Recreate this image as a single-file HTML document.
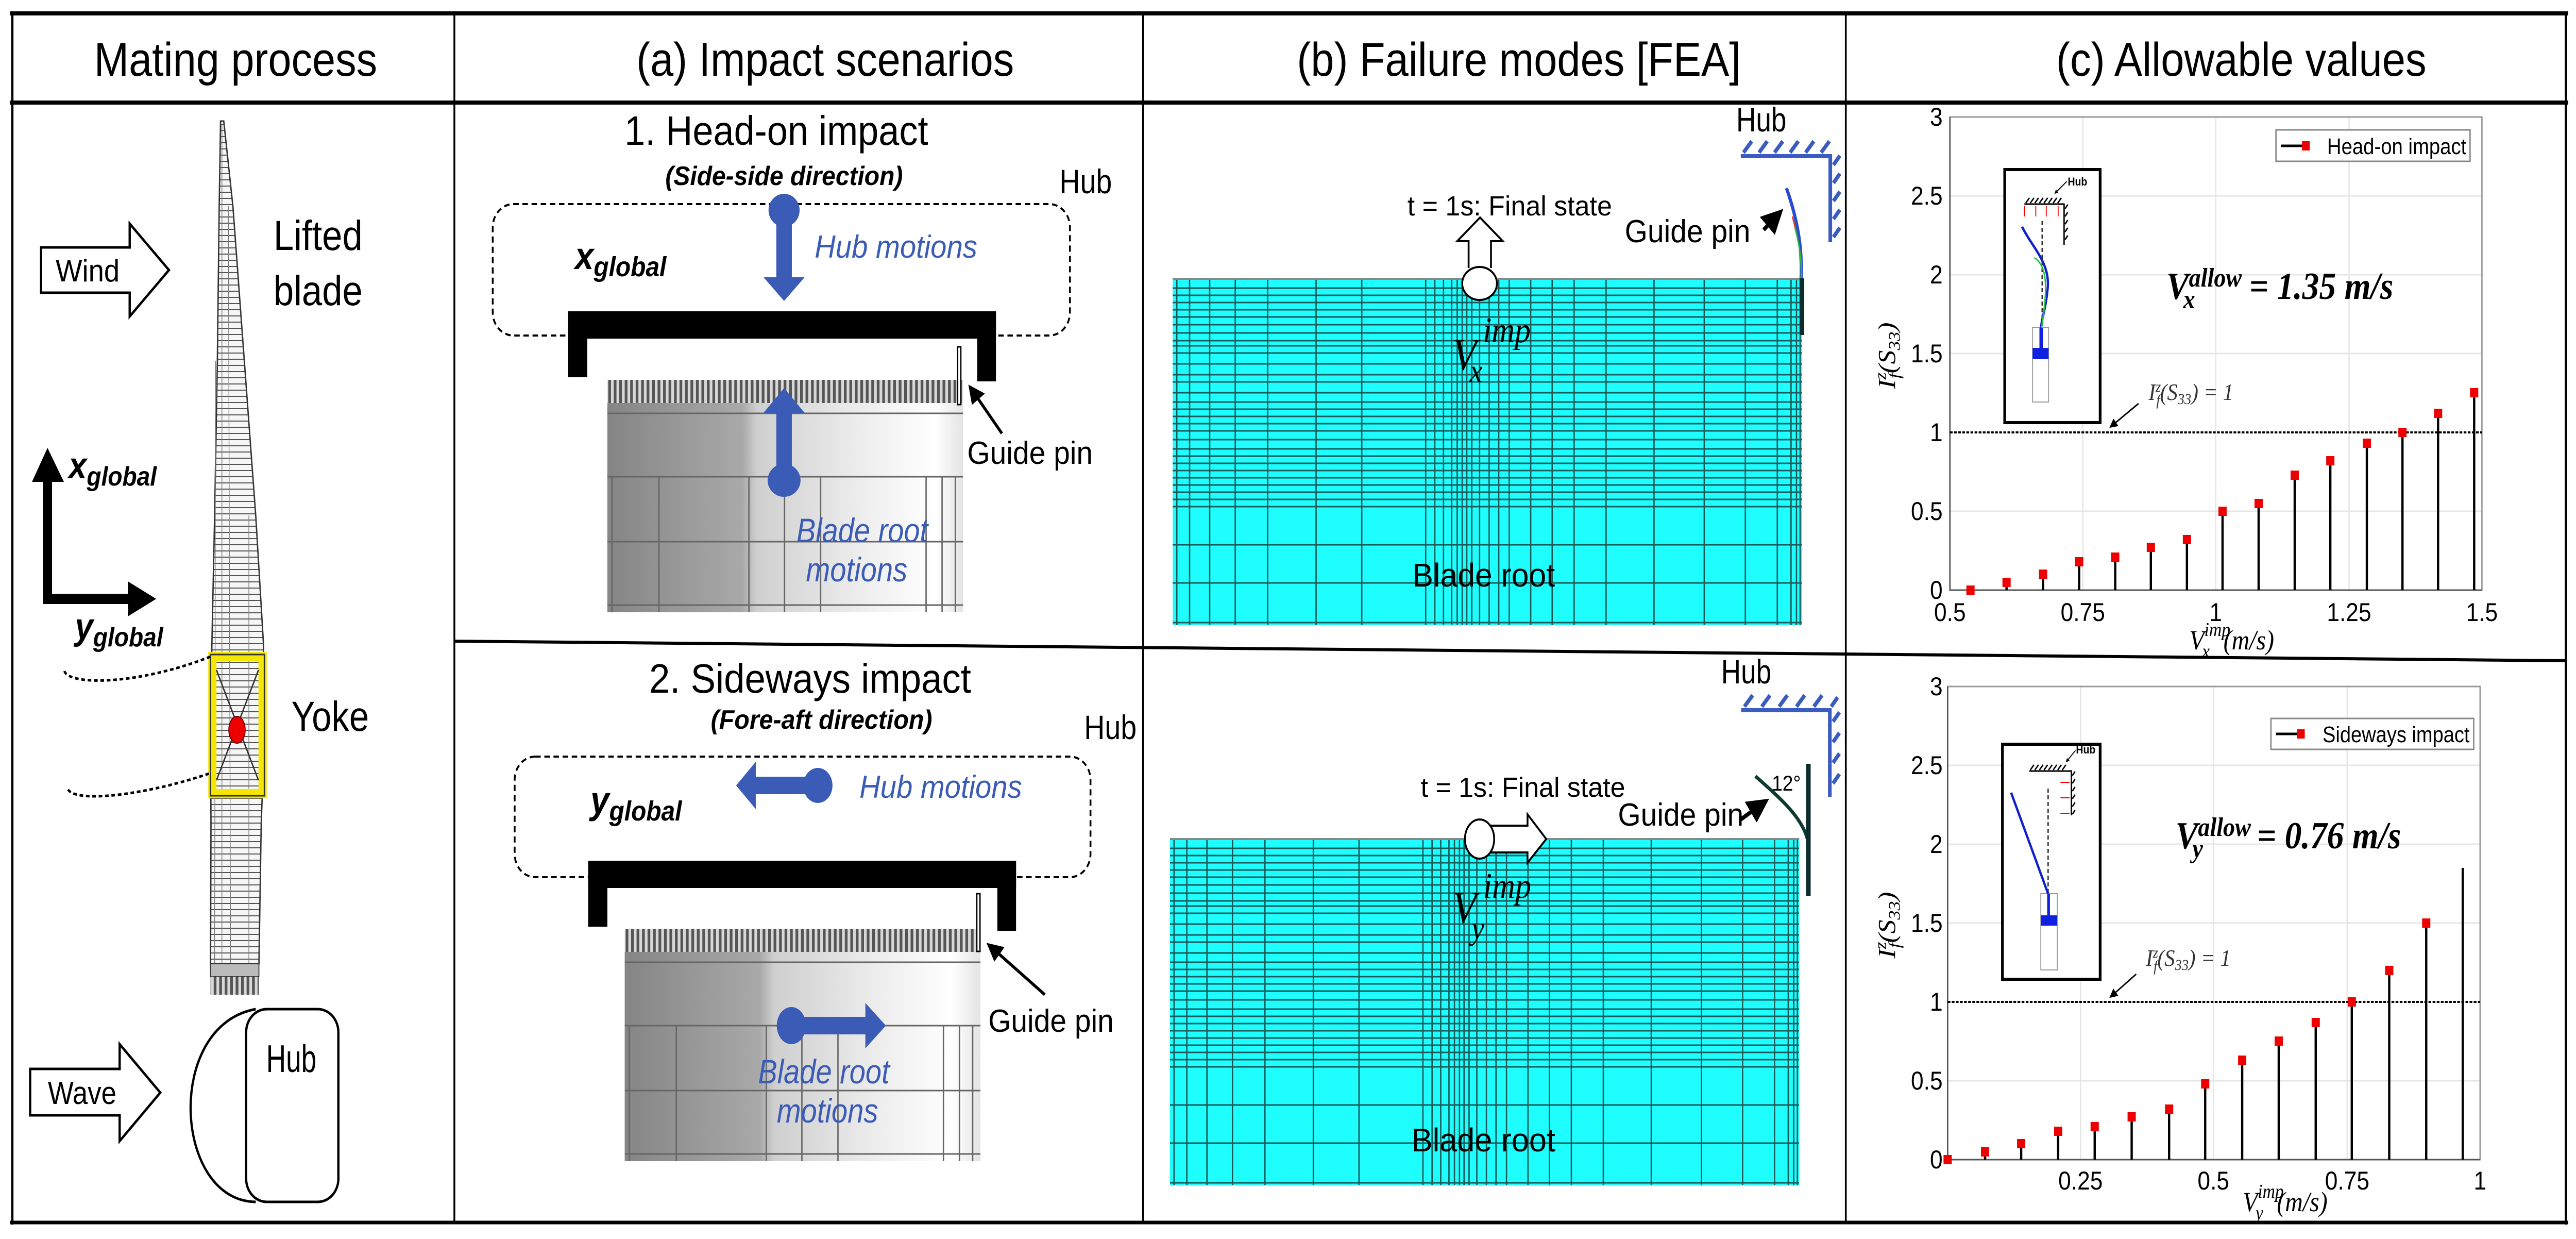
<!DOCTYPE html>
<html><head><meta charset="utf-8"><style>
html,body{margin:0;padding:0;background:#fff;width:100%;height:100%;overflow:hidden;}
svg{display:block;width:100vw;height:100vh;}
text{font-family:"Liberation Sans",Arial,sans-serif;}
.m{font-family:"Liberation Serif",serif;font-style:italic;}
.bl{fill:#3a5bb6;font-style:italic;}
</style></head><body>
<svg viewBox="0 0 5641 2404" preserveAspectRatio="none" xmlns="http://www.w3.org/2000/svg">
<defs>
<linearGradient id="cg" x1="0" x2="1" y1="0" y2="0">
<stop offset="0" stop-color="#858585"/><stop offset="0.38" stop-color="#a9a9a9"/><stop offset="0.42" stop-color="#cfcfcf"/><stop offset="0.7" stop-color="#ececec"/><stop offset="0.92" stop-color="#ffffff"/><stop offset="1" stop-color="#e4e4e4"/>
</linearGradient>
<pattern id="comb" width="12" height="50" patternUnits="userSpaceOnUse"><rect width="12" height="50" fill="#d8d8d8"/><rect width="6" height="50" fill="#555"/></pattern>
<pattern id="bh" width="40" height="12" patternUnits="userSpaceOnUse"><rect width="40" height="12" fill="#f6f6f6"/><rect y="0" width="40" height="2" fill="#555"/></pattern>
<marker id="ah" viewBox="0 0 10 10" refX="8" refY="5" markerWidth="4" markerHeight="4" orient="auto"><path d="M0,0 L10,5 L0,10 z" fill="#000"/></marker>
<marker id="ahs" viewBox="0 0 10 10" refX="8" refY="5" markerWidth="6" markerHeight="6" orient="auto"><path d="M0,0 L10,5 L0,10 z" fill="#000"/></marker>

<g id="mesh">
<rect x="2568" y="541" width="1378" height="672" fill="#1ffeff"/>
<g stroke="#1a5a5a" stroke-width="3" fill="none">
<path d="M2568,559H3946M2568,573H3946M2568,587H3946M2568,601H3946M2568,615H3946M2568,630H3946M2568,646H3946M2568,661H3946M2568,671H3946M2568,685H3946M2568,706H3946M2568,727H3946M2568,741H3946M2568,762H3946M2568,780H3946M2568,794H3946M2568,808H3946M2568,822H3946M2568,836H3946M2568,853H3946M2568,871H3946M2568,885H3946M2568,899H3946M2568,913H3946M2568,927H3946M2568,941H3946M2568,955H3946M2568,969H3946M2568,983H3946M2568,1057H3946M2568,1131H3946M2568,1208H3946"/>
<path d="M2577,541V1213M2605,541V1213M2649,541V1213M2705,541V1213M2776,541V1213M2882,541V1213M2982,541V1213M3122,541V1213M3142,541V1213M3161,541V1213M3179,541V1213M3191,541V1213M3202,541V1213M3212,541V1213M3223,541V1213M3240,541V1213M3261,541V1213M3282,541V1213M3305,541V1213M3352,541V1213M3399,541V1213M3447,541V1213M3517,541V1213M3622,541V1213M3732,541V1213M3822,541V1213M3892,541V1213M3922,541V1213M3934,541V1213M3942,541V1213"/>
</g>
<line x1="2568" y1="541" x2="3946" y2="541" stroke="#888" stroke-width="4"/>
</g>

<g id="cyl">
<rect x="1330" y="782" width="779" height="406" fill="url(#cg)"/>
<rect x="1330" y="737" width="779" height="45" fill="url(#comb)"/>
<g stroke="#666" stroke-width="3">
<path d="M1330,802H2109M1330,925H2109M1330,1051H2109M1330,1174H2109"/>
<path d="M1340,925V1188M1443,925V1188M1640,925V1188M1718,925V1188M1797,925V1188M2028,925V1188M2063,925V1188M2092,925V1188"/>
</g>
</g>

<g id="brk" fill="#000">
<rect x="1244" y="604" width="937" height="53"/>
<rect x="1244" y="604" width="42" height="128"/>
<rect x="2140" y="604" width="41" height="136"/>
</g>
</defs>

<!-- table lines -->
<g stroke="#000" fill="none">
<line x1="22" y1="26" x2="5624" y2="26" stroke-width="8"/>
<line x1="22" y1="199" x2="5624" y2="199" stroke-width="8"/>
<line x1="27" y1="22" x2="27" y2="2376" stroke-width="5"/>
<line x1="5619" y1="22" x2="5619" y2="2376" stroke-width="5"/>
<line x1="22" y1="2372" x2="5624" y2="2372" stroke-width="7"/>
<line x1="995" y1="26" x2="995" y2="2372" stroke-width="4"/>
<line x1="2503" y1="26" x2="2503" y2="2372" stroke-width="4"/>
<line x1="4042" y1="26" x2="4042" y2="2372" stroke-width="4"/>
<line x1="995" y1="1244" x2="5619" y2="1282" stroke-width="6"/>
</g>

<!-- headers -->
<g font-size="92" fill="#000">
<text x="516" y="147" text-anchor="middle" textLength="620" lengthAdjust="spacingAndGlyphs">Mating process</text>
<text x="1807" y="147" text-anchor="middle" textLength="827" lengthAdjust="spacingAndGlyphs">(a) Impact scenarios</text>
<text x="3326" y="147" text-anchor="middle" textLength="972" lengthAdjust="spacingAndGlyphs">(b) Failure modes [FEA]</text>
<text x="4908" y="147" text-anchor="middle" textLength="811" lengthAdjust="spacingAndGlyphs">(c) Allowable values</text>
</g>

<!-- ========== Mating process column ========== -->
<path d="M483,235 L490,235 L510,400 L535,700 L560,1000 L577,1250 L580,1400 L572,1600 L567,1870 L461,1870 L462,1600 L461,1400 L464,1250 L470,1000 L476,700 L480,400 Z" fill="url(#bh)" stroke="#333" stroke-width="3"/>
<path d="M486,240 L486,1870 M500,400 L505,1870 M472,700 L470,1870 M545,1000 L545,1870" stroke="#777" stroke-width="1.5" fill="none"/>
<rect x="461" y="1870" width="106" height="25" fill="#bbb" stroke="#333" stroke-width="2"/>
<rect x="461" y="1895" width="106" height="35" fill="url(#comb)"/>
<!-- yoke -->
<rect x="465" y="1274" width="110" height="266" fill="none" stroke="#f4e600" stroke-width="18"/>
<rect x="461" y="1270" width="118" height="274" fill="none" stroke="#333" stroke-width="3"/>
<path d="M474,1300 L566,1514 M566,1300 L474,1514" stroke="#333" stroke-width="3"/>
<ellipse cx="519" cy="1416" rx="18" ry="26" fill="#ee0000" stroke="#600" stroke-width="2"/>
<path d="M141,1302 C150,1330 300,1330 461,1274" fill="none" stroke="#000" stroke-width="5" stroke-dasharray="8,6"/>
<path d="M149,1532 C170,1560 330,1540 461,1500" fill="none" stroke="#000" stroke-width="5" stroke-dasharray="8,6"/>
<text x="638" y="1418" font-size="82" textLength="170" lengthAdjust="spacingAndGlyphs">Yoke</text>
<text x="599" y="485" font-size="82" textLength="195" lengthAdjust="spacingAndGlyphs">Lifted</text>
<text x="599" y="592" font-size="82" textLength="195" lengthAdjust="spacingAndGlyphs">blade</text>
<!-- wind arrow -->
<path d="M90,480 H284 V434 L370,524 L284,614 V568 H90 Z" fill="#fff" stroke="#000" stroke-width="5"/>
<text x="192" y="546" font-size="60" text-anchor="middle" textLength="140" lengthAdjust="spacingAndGlyphs">Wind</text>
<!-- axes -->
<path d="M104,1162 V920" stroke="#000" stroke-width="20"/>
<path d="M70,935 L104,869 L140,935 Z" fill="#000"/>
<path d="M94,1162 H290" stroke="#000" stroke-width="20"/>
<path d="M280,1128 L342,1162 L280,1196 Z" fill="#000"/>
<text x="150" y="928" font-size="72" font-weight="bold" font-style="italic">x<tspan font-size="52" dy="14">global</tspan></text>
<text x="164" y="1240" font-size="72" font-weight="bold" font-style="italic">y<tspan font-size="52" dy="14">global</tspan></text>
<!-- wave arrow -->
<path d="M66,2074 H262 V2026 L351,2120 L262,2214 V2164 H66 Z" fill="#fff" stroke="#000" stroke-width="5"/>
<text x="180" y="2142" font-size="62" text-anchor="middle" textLength="150" lengthAdjust="spacingAndGlyphs">Wave</text>
<!-- hub D -->
<path d="M560,1958 C360,1990 380,2330 560,2332" fill="#fff" stroke="#000" stroke-width="5"/>
<rect x="539" y="1958" width="202" height="374" rx="45" fill="#fff" stroke="#000" stroke-width="5"/>
<text x="638" y="2080" font-size="75" text-anchor="middle" textLength="110" lengthAdjust="spacingAndGlyphs">Hub</text>

<!-- ========== (a) top ========== -->
<text x="1700" y="281" font-size="80" text-anchor="middle" textLength="665" lengthAdjust="spacingAndGlyphs">1. Head-on impact</text>
<text x="1717" y="359" font-size="52" font-weight="bold" font-style="italic" text-anchor="middle" textLength="520" lengthAdjust="spacingAndGlyphs">(Side-side direction)</text>
<text x="2320" y="375" font-size="66" textLength="115" lengthAdjust="spacingAndGlyphs">Hub</text>
<rect x="1079" y="396" width="1264" height="255" rx="45" fill="none" stroke="#000" stroke-width="4" stroke-dasharray="12,8"/>
<text x="1259" y="522" font-size="74" font-weight="bold" font-style="italic">x<tspan font-size="54" dy="14">global</tspan></text>
<use href="#cyl"/>
<use href="#brk"/>
<rect x="2097" y="673" width="7" height="112" fill="#fff" stroke="#000" stroke-width="3"/>
<line x1="1717" y1="406" x2="1717" y2="545" stroke="#3a5bb6" stroke-width="34"/>
<ellipse cx="1717" cy="408" rx="34" ry="32" fill="#3a5bb6"/>
<path d="M1672,538 L1762,538 L1717,584 Z" fill="#3a5bb6"/>
<text x="1784" y="500" font-size="62" class="bl" textLength="356" lengthAdjust="spacingAndGlyphs">Hub motions</text>
<line x1="1717" y1="795" x2="1717" y2="932" stroke="#3a5bb6" stroke-width="34"/>
<ellipse cx="1717" cy="932" rx="36" ry="32" fill="#3a5bb6"/>
<path d="M1672,801 L1762,801 L1717,753 Z" fill="#3a5bb6"/>
<text x="1888" y="1052" font-size="66" class="bl" text-anchor="middle" textLength="288" lengthAdjust="spacingAndGlyphs">Blade root</text>
<text x="1876" y="1128" font-size="66" class="bl" text-anchor="middle" textLength="222" lengthAdjust="spacingAndGlyphs">motions</text>
<line x1="2194" y1="841" x2="2125" y2="752" stroke="#000" stroke-width="6" marker-end="url(#ahs)"/>
<text x="2118" y="900" font-size="62" textLength="275" lengthAdjust="spacingAndGlyphs">Guide pin</text>

<!-- ========== (a) bottom ========== -->
<text x="1774" y="1344" font-size="80" text-anchor="middle" textLength="705" lengthAdjust="spacingAndGlyphs">2. Sideways impact</text>
<text x="1799" y="1414" font-size="52" font-weight="bold" font-style="italic" text-anchor="middle" textLength="485" lengthAdjust="spacingAndGlyphs">(Fore-aft direction)</text>
<text x="2374" y="1434" font-size="66" textLength="115" lengthAdjust="spacingAndGlyphs">Hub</text>
<rect x="1127" y="1468" width="1261" height="234" rx="45" fill="none" stroke="#000" stroke-width="4" stroke-dasharray="12,8"/>
<text x="1293" y="1578" font-size="74" font-weight="bold" font-style="italic">y<tspan font-size="54" dy="14">global</tspan></text>
<use href="#cyl" transform="translate(38,1065)"/>
<use href="#brk" transform="translate(44,1066)"/>
<rect x="2139" y="1734" width="7" height="112" fill="#fff" stroke="#000" stroke-width="3"/>
<line x1="1791" y1="1524" x2="1650" y2="1524" stroke="#3a5bb6" stroke-width="34"/>
<ellipse cx="1791" cy="1524" rx="32" ry="34" fill="#3a5bb6"/>
<path d="M1655,1478 L1655,1570 L1612,1524 Z" fill="#3a5bb6"/>
<text x="1882" y="1548" font-size="62" class="bl" textLength="356" lengthAdjust="spacingAndGlyphs">Hub motions</text>
<line x1="1733" y1="1990" x2="1900" y2="1990" stroke="#3a5bb6" stroke-width="34"/>
<ellipse cx="1733" cy="1990" rx="32" ry="36" fill="#3a5bb6"/>
<path d="M1895,1946 L1895,2034 L1940,1990 Z" fill="#3a5bb6"/>
<text x="1804" y="2102" font-size="66" class="bl" text-anchor="middle" textLength="288" lengthAdjust="spacingAndGlyphs">Blade root</text>
<text x="1812" y="2178" font-size="66" class="bl" text-anchor="middle" textLength="222" lengthAdjust="spacingAndGlyphs">motions</text>
<line x1="2288" y1="1930" x2="2166" y2="1834" stroke="#000" stroke-width="6" marker-end="url(#ahs)"/>
<text x="2164" y="2002" font-size="62" textLength="275" lengthAdjust="spacingAndGlyphs">Guide pin</text>

<!-- ========== (b) top ========== -->
<use href="#mesh"/>
<text x="3802" y="255" font-size="66" textLength="110" lengthAdjust="spacingAndGlyphs">Hub</text>
<g stroke="#3a5bc0" stroke-width="8" fill="none">
<path d="M3812,303 H4008 V470"/>
<path d="M3818,296 l18,-22 M3852,296 l18,-22 M3886,296 l18,-22 M3920,296 l18,-22 M3954,296 l18,-22 M3988,296 l18,-22 M4015,320 l14,-18 M4015,355 l14,-18 M4015,390 l14,-18 M4015,425 l14,-18 M4015,460 l14,-18"/>
</g>
<path d="M3912,365 C3930,410 3948,470 3944,542" fill="none" stroke="#2a4ad0" stroke-width="7"/>
<path d="M3925,420 C3940,470 3948,510 3944,542" fill="none" stroke="#e04020" stroke-width="3"/>
<path d="M3930,440 C3942,480 3946,510 3944,542" fill="none" stroke="#20c040" stroke-width="3"/>
<line x1="3946" y1="540" x2="3946" y2="650" stroke="#0d2b2b" stroke-width="10"/>
<line x1="3862" y1="446" x2="3898" y2="412" stroke="#000" stroke-width="8" marker-end="url(#ahs)"/>
<text x="3558" y="470" font-size="62" textLength="275" lengthAdjust="spacingAndGlyphs">Guide pin</text>
<path d="M3216,520 V468 H3191 L3241,422 L3291,468 H3265 V520" fill="#fff" stroke="#000" stroke-width="4"/>
<ellipse cx="3240" cy="550" rx="38" ry="32" fill="#fff" stroke="#000" stroke-width="4"/>
<text x="3082" y="418" font-size="54" textLength="448" lengthAdjust="spacingAndGlyphs">t = 1s: Final state</text>
<text x="3180" y="717" font-size="88" class="m">V</text>
<text x="3247" y="664" font-size="70" class="m">imp</text>
<text x="3218" y="741" font-size="64" class="m">x</text>
<text x="3093" y="1138" font-size="64" textLength="312" lengthAdjust="spacingAndGlyphs">Blade root</text>

<!-- ========== (b) bottom ========== -->
<use href="#mesh" transform="translate(-6,1087)"/>
<text x="3769" y="1326" font-size="66" textLength="110" lengthAdjust="spacingAndGlyphs">Hub</text>
<g stroke="#3a5bc0" stroke-width="8" fill="none">
<path d="M3813,1378 H4007 V1546"/>
<path d="M3820,1371 l18,-22 M3858,1371 l18,-22 M3896,1371 l18,-22 M3934,1371 l18,-22 M3972,1371 l18,-22 M4010,1371 l14,-18 M4014,1400 l14,-18 M4014,1440 l14,-18 M4014,1480 l14,-18 M4014,1520 l14,-18"/>
</g>
<path d="M3844,1506 C3900,1550 3945,1585 3958,1628" fill="none" stroke="#0d3b33" stroke-width="7"/>
<line x1="3960" y1="1482" x2="3960" y2="1738" stroke="#0d2b2b" stroke-width="10"/>
<text x="3880" y="1534" font-size="42">12°</text>
<line x1="3812" y1="1590" x2="3866" y2="1555" stroke="#000" stroke-width="8" marker-end="url(#ahs)"/>
<text x="3543" y="1602" font-size="62" textLength="275" lengthAdjust="spacingAndGlyphs">Guide pin</text>
<path d="M3258,1602 H3345 V1580 L3386,1628 L3345,1674 V1654 H3258" fill="#fff" stroke="#000" stroke-width="4"/>
<ellipse cx="3240" cy="1628" rx="32" ry="38" fill="#fff" stroke="#000" stroke-width="4"/>
<text x="3111" y="1546" font-size="54" textLength="448" lengthAdjust="spacingAndGlyphs">t = 1s: Final state</text>
<text x="3180" y="1790" font-size="88" class="m">V</text>
<text x="3248" y="1742" font-size="70" class="m">imp</text>
<text x="3222" y="1822" font-size="64" class="m">y</text>
<text x="3091" y="2234" font-size="64" textLength="315" lengthAdjust="spacingAndGlyphs">Blade root</text>

<!-- ========== (c) top chart ========== -->
<g stroke="#e6e6e6" stroke-width="3">
<path d="M4561,227V1145M4852,227V1145M5144,227V1145M4270,992H5435M4270,686H5435M4270,533H5435M4270,380H5435"/>
</g>
<rect x="4270" y="227" width="1165" height="918" fill="none" stroke="#999" stroke-width="3"/>
<path d="M4270,227V1145H5435" fill="none" stroke="#555" stroke-width="3"/>
<line x1="4270" y1="839" x2="5435" y2="839" stroke="#000" stroke-width="4" stroke-dasharray="6,3"/>
<g font-size="50" text-anchor="end">
<text x="4254" y="1162">0</text><text x="4254" y="1009">0.5</text><text x="4254" y="856">1</text><text x="4254" y="703">1.5</text><text x="4254" y="550">2</text><text x="4254" y="397">2.5</text><text x="4254" y="244">3</text>
</g>
<g font-size="50" text-anchor="middle">
<text x="4270" y="1205">0.5</text><text x="4561" y="1205">0.75</text><text x="4852" y="1205">1</text><text x="5144" y="1205">1.25</text><text x="5435" y="1205">1.5</text>
</g>
<text x="4887" y="1260" font-size="54" class="m" text-anchor="middle">V<tspan font-size="38" dy="-26">imp</tspan><tspan font-size="38" dx="-62" dy="42">x</tspan><tspan font-size="54" dx="30" dy="-16">(m/s)</tspan></text>
<text transform="translate(4150,690) rotate(-90)" font-size="54" class="m" text-anchor="middle">I<tspan font-size="36" dy="-20">z</tspan><tspan font-size="36" dx="-12" dy="30">f</tspan><tspan font-size="54" dy="-10">(S</tspan><tspan font-size="36" dy="10">33</tspan><tspan font-size="54" dy="-10">)</tspan></text>
<g stroke="#000" stroke-width="5">
<path d="M4394,1145V1130M4474,1145V1114M4553,1145V1090M4632,1145V1081M4710,1145V1062M4789,1145V1047M4867,1145V992M4946,1145V977M5025,1145V922M5103,1145V894M5183,1145V860M5261,1145V839M5339,1145V802M5418,1145V762"/>
</g>
<g fill="#ee0000">
<rect x="4306" y="1136" width="18" height="18"/><rect x="4385" y="1121" width="18" height="18"/><rect x="4465" y="1105" width="18" height="18"/><rect x="4544" y="1081" width="18" height="18"/><rect x="4623" y="1072" width="18" height="18"/><rect x="4701" y="1053" width="18" height="18"/><rect x="4780" y="1038" width="18" height="18"/><rect x="4858" y="983" width="18" height="18"/><rect x="4937" y="968" width="18" height="18"/><rect x="5016" y="913" width="18" height="18"/><rect x="5094" y="885" width="18" height="18"/><rect x="5174" y="851" width="18" height="18"/><rect x="5252" y="830" width="18" height="18"/><rect x="5330" y="793" width="18" height="18"/><rect x="5409" y="753" width="18" height="18"/>
</g>
<rect x="4984" y="252" width="425" height="61" fill="#fff" stroke="#888" stroke-width="3"/>
<line x1="4995" y1="283" x2="5045" y2="283" stroke="#000" stroke-width="5"/>
<rect x="5041" y="274" width="17" height="18" fill="#ee0000"/>
<text x="5096" y="299" font-size="44" textLength="305" lengthAdjust="spacingAndGlyphs">Head-on impact</text>
<text x="4705" y="776" font-size="46" class="m" fill="#333">I<tspan font-size="30" dy="-16">z</tspan><tspan font-size="30" dx="-10" dy="26">f</tspan><tspan font-size="46" dy="-10">(S</tspan><tspan font-size="30" dy="8">33</tspan><tspan font-size="46" dy="-8">) = 1</tspan></text>
<line x1="4683" y1="783" x2="4622" y2="828" stroke="#000" stroke-width="3" marker-end="url(#ahs)"/>
<text x="4744" y="580" font-size="74" font-weight="bold" class="m">V<tspan font-size="52" dy="-24">allow</tspan><tspan font-size="52" dx="-128" dy="42">x</tspan><tspan font-size="74" dx="100" dy="-18"> = 1.35 m/s</tspan></text>
<rect x="4390" y="329" width="209" height="491" fill="#fff" stroke="#000" stroke-width="6"/>
<path d="M4433,396 H4520 V475" fill="none" stroke="#000" stroke-width="3"/>
<path d="M4436,394 l8,-10 M4446,394 l8,-10 M4456,394 l8,-10 M4466,394 l8,-10 M4476,394 l8,-10 M4486,394 l8,-10 M4496,394 l8,-10 M4506,394 l8,-10 M4522,405 l6,-8 M4522,420 l6,-8 M4522,435 l6,-8 M4522,450 l6,-8 M4522,465 l6,-8" stroke="#000" stroke-width="3"/>
<text x="4528" y="360" font-size="22" font-weight="bold">Hub</text>
<line x1="4526" y1="352" x2="4500" y2="375" stroke="#000" stroke-width="2" marker-end="url(#ah)"/>
<g stroke="#e00" stroke-width="2"><path d="M4433,400V420M4458,400V420M4481,400V420M4507,400V420"/></g>
<path d="M4472,429 V632" stroke="#333" stroke-width="3" stroke-dasharray="8,5"/>
<rect x="4451" y="635" width="35" height="145" fill="#fff" stroke="#999" stroke-width="2"/>
<path d="M4428,440 C4450,480 4490,510 4484,560 C4480,600 4470,620 4469,640" fill="none" stroke="#1020d0" stroke-width="5"/>
<path d="M4455,500 C4490,520 4480,580 4470,640" fill="none" stroke="#20c040" stroke-width="3"/>
<rect x="4466" y="636" width="8" height="40" fill="#1020e0"/>
<rect x="4451" y="675" width="35" height="22" fill="#1020e0"/>

<!-- ========== (c) bottom chart ========== -->
<g stroke="#e6e6e6" stroke-width="3">
<path d="M4556,1332V2250M4847,1332V2250M5140,1332V2250M4265,2097H5431M4265,1791H5431M4265,1638H5431M4265,1485H5431"/>
</g>
<rect x="4265" y="1332" width="1166" height="918" fill="none" stroke="#999" stroke-width="3"/>
<path d="M4265,1332V2250H5431" fill="none" stroke="#555" stroke-width="3"/>
<line x1="4265" y1="1944" x2="5431" y2="1944" stroke="#000" stroke-width="4" stroke-dasharray="6,3"/>
<g font-size="50" text-anchor="end">
<text x="4254" y="2267">0</text><text x="4254" y="2114">0.5</text><text x="4254" y="1961">1</text><text x="4254" y="1808">1.5</text><text x="4254" y="1655">2</text><text x="4254" y="1502">2.5</text><text x="4254" y="1349">3</text>
</g>
<g font-size="50" text-anchor="middle">
<text x="4556" y="2308">0.25</text><text x="4847" y="2308">0.5</text><text x="5140" y="2308">0.75</text><text x="5431" y="2308">1</text>
</g>
<text x="5004" y="2350" font-size="54" class="m" text-anchor="middle">V<tspan font-size="38" dy="-26">imp</tspan><tspan font-size="38" dx="-62" dy="42">y</tspan><tspan font-size="54" dx="30" dy="-16">(m/s)</tspan></text>
<text transform="translate(4150,1795) rotate(-90)" font-size="54" class="m" text-anchor="middle">I<tspan font-size="36" dy="-20">z</tspan><tspan font-size="36" dx="-12" dy="30">f</tspan><tspan font-size="54" dy="-10">(S</tspan><tspan font-size="36" dy="10">33</tspan><tspan font-size="54" dy="-10">)</tspan></text>
<g stroke="#000" stroke-width="5">
<path d="M4347,2250V2235M4426,2250V2219M4507,2250V2195M4587,2250V2186M4668,2250V2167M4750,2250V2152M4829,2250V2103M4910,2250V2057M4990,2250V2020M5071,2250V1984M5150,2250V1944M5232,2250V1883M5313,2250V1791M5393,2250V1684"/>
</g>
<g fill="#ee0000">
<rect x="4256" y="2241" width="18" height="18"/><rect x="4338" y="2226" width="18" height="18"/><rect x="4417" y="2210" width="18" height="18"/><rect x="4498" y="2186" width="18" height="18"/><rect x="4578" y="2177" width="18" height="18"/><rect x="4659" y="2158" width="18" height="18"/><rect x="4741" y="2143" width="18" height="18"/><rect x="4820" y="2094" width="18" height="18"/><rect x="4901" y="2048" width="18" height="18"/><rect x="4981" y="2011" width="18" height="18"/><rect x="5062" y="1975" width="18" height="18"/><rect x="5141" y="1935" width="18" height="18"/><rect x="5223" y="1874" width="18" height="18"/><rect x="5304" y="1782" width="18" height="18"/>
</g>
<rect x="4973" y="1394" width="444" height="60" fill="#fff" stroke="#888" stroke-width="3"/>
<line x1="4984" y1="1424" x2="5034" y2="1424" stroke="#000" stroke-width="5"/>
<rect x="5030" y="1415" width="17" height="18" fill="#ee0000"/>
<text x="5086" y="1440" font-size="44" textLength="322" lengthAdjust="spacingAndGlyphs">Sideways impact</text>
<text x="4699" y="1874" font-size="46" class="m" fill="#333">I<tspan font-size="30" dy="-16">z</tspan><tspan font-size="30" dx="-10" dy="26">f</tspan><tspan font-size="46" dy="-10">(S</tspan><tspan font-size="30" dy="8">33</tspan><tspan font-size="46" dy="-8">) = 1</tspan></text>
<line x1="4678" y1="1890" x2="4622" y2="1934" stroke="#000" stroke-width="3" marker-end="url(#ahs)"/>
<text x="4764" y="1646" font-size="74" font-weight="bold" class="m">V<tspan font-size="52" dy="-24">allow</tspan><tspan font-size="52" dx="-128" dy="42">y</tspan><tspan font-size="74" dx="100" dy="-18"> = 0.76 m/s</tspan></text>
<rect x="4385" y="1444" width="214" height="456" fill="#fff" stroke="#000" stroke-width="6"/>
<path d="M4444,1496 H4536 V1582" fill="none" stroke="#000" stroke-width="3"/>
<path d="M4446,1494 l8,-10 M4456,1494 l8,-10 M4466,1494 l8,-10 M4476,1494 l8,-10 M4486,1494 l8,-10 M4496,1494 l8,-10 M4506,1494 l8,-10 M4516,1494 l8,-10 M4538,1505 l6,-8 M4538,1520 l6,-8 M4538,1535 l6,-8 M4538,1550 l6,-8 M4538,1565 l6,-8 M4538,1580 l6,-8" stroke="#000" stroke-width="3"/>
<text x="4546" y="1462" font-size="22" font-weight="bold">Hub</text>
<line x1="4545" y1="1456" x2="4525" y2="1478" stroke="#000" stroke-width="2" marker-end="url(#ah)"/>
<g stroke="#e00" stroke-width="2"><path d="M4532,1518H4512M4532,1548H4512M4532,1578H4512"/></g>
<path d="M4485,1530 V1732" stroke="#333" stroke-width="3" stroke-dasharray="8,5"/>
<rect x="4469" y="1734" width="36" height="148" fill="#fff" stroke="#999" stroke-width="2"/>
<path d="M4404,1538 L4485,1734" stroke="#1020d0" stroke-width="5"/>
<rect x="4469" y="1776" width="36" height="20" fill="#1020e0"/>
<rect x="4483" y="1734" width="6" height="42" fill="#1020e0"/>
</svg>
</body></html>
